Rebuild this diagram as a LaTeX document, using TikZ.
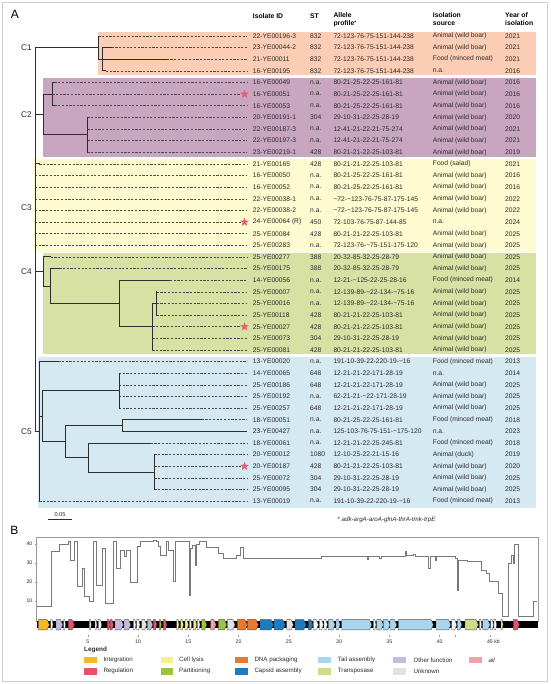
\documentclass[tikz,border=0pt]{standalone}
\usepackage{fontspec}
\setmainfont{Liberation Sans}
\usetikzlibrary{shapes.geometric}
\definecolor{bgA}{HTML}{FCCDB5}
\definecolor{bgB}{HTML}{C8A6C0}
\definecolor{bgC}{HTML}{FEFBD0}
\definecolor{bgD}{HTML}{D6E1A3}
\definecolor{bgE}{HTML}{D4E9F2}
\definecolor{starc}{HTML}{E06473}
\definecolor{treec}{HTML}{2E2E2E}
\definecolor{dashc}{HTML}{4A4A4A}
\definecolor{txtc}{HTML}{2B2B2B}
\definecolor{framec}{HTML}{CFCFCF}
\definecolor{chartc}{HTML}{9A9A9A}
\definecolor{profc}{HTML}{787878}
\definecolor{geneedge}{HTML}{505050}
\definecolor{cInt}{HTML}{F8B629}
\definecolor{cReg}{HTML}{E5536B}
\definecolor{cLys}{HTML}{F7F08A}
\definecolor{cPart}{HTML}{9CC23F}
\definecolor{cDNA}{HTML}{E8792F}
\definecolor{cCap}{HTML}{1B7CC2}
\definecolor{cTail}{HTML}{A9D6EE}
\definecolor{cTrans}{HTML}{CCDD83}
\definecolor{cOther}{HTML}{C7B9DB}
\definecolor{cUnk}{HTML}{E2E2E2}
\definecolor{cAil}{HTML}{F1A2A8}
\definecolor{cWht}{HTML}{F6F6F6}
\newcommand\yy[1]{36+11.63*(#1-1)}
\newcommand\mytilde{\textasciitilde}
\newcommand\gene[3]{%
  \pgfmathsetmacro\genetip{min(2.2,(#2-#1)/2.5)}%
  \filldraw[fill=#3, draw=geneedge, line width=0.35pt]
    (#1,619.6) -- ({#2-\genetip},619.6) -- (#2,624.75) -- ({#2-\genetip},629.9) -- (#1,629.9) -- cycle;}
\begin{document}
\begin{tikzpicture}[x=1pt,y=-1pt,
  tbl/.style={anchor=west, inner sep=0pt, font=\fontsize{6.7}{8}\selectfont, text=txtc},
  hdr/.style={anchor=north west, inner sep=0pt, align=left, font=\fontsize{6.8}{8}\selectfont\bfseries},
  hdrone/.style={anchor=west, inner sep=0pt, font=\fontsize{6.8}{8}\selectfont\bfseries},
  branch/.style={draw=treec, line width=0.95pt, line cap=rect},
  leafdash/.style={draw=dashc, line width=0.6pt, dash pattern=on 2.2pt off 1.5pt},
  clab/.style={anchor=east, inner sep=0pt, font=\fontsize{8.3}{9}\selectfont, text=txtc},
  starsty/.style={star, star points=5, star point ratio=2.3, minimum size=9pt, inner sep=0pt, fill=starc},
  panel/.style={inner sep=0pt, font=\fontsize{12}{12}\selectfont},
  leg/.style={anchor=west, inner sep=0pt, font=\fontsize{6.2}{7}\selectfont, text=txtc},
  axlab/.style={inner sep=0pt, font=\fontsize{5.2}{6}\selectfont, text=txtc},
  profile/.style={draw=profc, line width=0.7pt}
]
\useasboundingbox (0,0) rectangle (550,684);
\fill[white] (0,0) rectangle (550,684);
\draw[framec, line width=0.8pt] (2.5,2) rectangle (547.5,681);

% panel labels
\node[panel] (pA) at (15,14.2) {A};
\node[panel] (pB) at (14.3,530.5) {B};

% cluster backgrounds
\fill[bgA] (98.3,31.7) rectangle (536,75.3);
\fill[bgB] (43.3,77.7) rectangle (536,156.7);
\fill[bgC] (34.3,158.7) rectangle (536,251.7);
\fill[bgD] (42.7,253.3) rectangle (536,354);
\fill[bgE] (37.7,356.7) rectangle (536,508.3);

% header
\node[hdrone] (hID) at (252.7,16) {Isolate ID};
\node[hdrone] (hST) at (310,16) {ST};
\node[hdr] (hAl) at (333.3,12.6) {Allele\\profile{\fontsize{5}{5}\selectfont\raisebox{1.2pt}{*}}};
\node[hdr] (hSrc) at (432.7,12.6) {Isolation\\source};
\node[hdr] (hYr) at (505,12.6) {Year of\\isolation};

% table rows
\foreach \n/\id/\st/\al/\src/\yr in {
1/22-YE00196-3/832/72-123-76-75-151-144-238/Animal (wild boar)/2021,
2/23-YE00044-2/832/72-123-76-75-151-144-238/Animal (wild boar)/2021,
3/21-YE00011/832/72-123-76-75-151-144-238/Food (minced meat)/2021,
4/16-YE00195/832/72-123-76-75-151-144-238/n.a./2016,
5/16-YE00049/n.a./80-21-25-22-25-161-81/Animal (wild boar)/2016,
6/16-YE00051/n.a./80-21-25-22-25-161-81/Animal (wild boar)/2016,
7/16-YE00053/n.a./80-21-25-22-25-161-81/Animal (wild boar)/2016,
8/20-YE00191-1/304/29-10-31-22-25-28-19/Animal (wild boar)/2020,
9/22-YE00187-3/n.a./12-41-21-22-21-75-274/Animal (wild boar)/2021,
10/22-YE00197-3/n.a./12-41-21-22-21-75-274/Animal (wild boar)/2021,
11/23-YE00219-1/428/80-21-21-22-25-103-81/Animal (wild boar)/2019,
12/21-YE00165/428/80-21-21-22-25-103-81/Food (salad)/2021,
13/16-YE00050/n.a./80-21-25-22-25-161-81/Animal (wild boar)/2016,
14/16-YE00052/n.a./80-21-25-22-25-161-81/Animal (wild boar)/2016,
15/22-YE00038-1/n.a./\mytilde72-\mytilde123-76-75-87-175-145/Animal (wild boar)/2022,
16/22-YE00038-2/n.a./\mytilde72-\mytilde123-76-75-87-175-145/Animal (wild boar)/2022,
17/24-YE00064 (R)/450/72-103-76-75-87-144-85/n.a./2024,
18/25-YE00084/428/80-21-21-22-25-103-81/Animal (wild boar)/2025,
19/25-YE00283/n.a./72-123-76-\mytilde75-151-175-120/Animal (wild boar)/2025,
20/25-YE00277/388/20-32-85-32-25-28-79/Animal (wild boar)/2025,
21/25-YE00175/388/20-32-85-32-25-28-79/Animal (wild boar)/2025,
22/14-YE00056/n.a./12-21-\mytilde125-22-25-28-16/Food (minced meat)/2014,
23/25-YE00007/n.a./12-139-89-\mytilde22-134-\mytilde75-16/Animal (wild boar)/2025,
24/25-YE00016/n.a./12-139-89-\mytilde22-134-\mytilde75-16/Animal (wild boar)/2025,
25/25-YE00118/428/80-21-21-22-25-103-81/Animal (wild boar)/2025,
26/25-YE00027/428/80-21-21-22-25-103-81/Animal (wild boar)/2025,
27/25-YE00073/304/29-10-31-22-25-28-19/Animal (wild boar)/2025,
28/25-YE00081/428/80-21-21-22-25-103-81/Animal (wild boar)/2025,
29/13-YE00020/n.a./191-10-39-22-220-19-\mytilde16/Food (minced meat)/2013,
30/14-YE00065/648/12-21-21-22-171-28-19/n.a./2014,
31/25-YE00186/648/12-21-21-22-171-28-19/Animal (wild boar)/2025,
32/25-YE00192/n.a./62-21-21-\mytilde22-171-28-19/Animal (wild boar)/2025,
33/25-YE00257/648/12-21-21-22-171-28-19/Animal (wild boar)/2025,
34/18-YE00051/n.a./80-21-25-22-25-161-81/Food (minced meat)/2018,
35/23-YE00427/n.a./125-103-76-75-151-\mytilde175-120/n.a./2023,
36/18-YE00061/n.a./12-21-21-22-25-245-81/Food (minced meat)/2018,
37/20-YE00012/1080/12-10-25-22-21-15-16/Animal (duck)/2019,
38/20-YE00187/428/80-21-21-22-25-103-81/Animal (wild boar)/2020,
39/25-YE00072/304/29-10-31-22-25-28-19/Animal (wild boar)/2025,
40/25-YE00095/304/29-10-31-22-25-28-19/Animal (wild boar)/2025,
41/13-YE00019/n.a./191-10-39-22-220-19-\mytilde16/Food (minced meat)/2013} {
  \node[tbl] (id\n) at (252.7,{\yy{\n}}) {\id};
  \node[tbl] (st\n) at (310,{\yy{\n}}) {\st};
  \node[tbl] (al\n) at (333.3,{\yy{\n}}) {\al};
  \node[tbl] (src\n) at (432.7,{\yy{\n}}) {\src};
  \node[tbl] (yr\n) at (505,{\yy{\n}}) {\yr};
}

% tree: internal nodes
\coordinate (root) at (35,240);
\coordinate (nA1) at (98.3,47.63);
\coordinate (nB1) at (102.7,59.26);
\coordinate (nA2) at (43.3,114.5);
\coordinate (nP2) at (52.3,94.15);
\coordinate (nQ2) at (87.3,134.86);
\coordinate (nA4) at (43.3,271.5);
\coordinate (nB4) at (50.7,286.05);
\coordinate (nC4) at (119,303.49);
\coordinate (nD4) at (152.3,326.75);
\coordinate (nE4) at (156.7,303.49);
\coordinate (nR5) at (39.3,431.4);
\coordinate (nM5) at (42.7,416.2);
\coordinate (nN15) at (119,390.7);
\coordinate (nN25) at (65,441.6);
\coordinate (nO15) at (122.7,425.6);
\coordinate (nO25) at (88.3,457.6);
\coordinate (nO35) at (154.3,472.1);

% leaves
\foreach \n/\px/\sx/\ex in {
1/98.3/98.3/247, 2/102.7/111.7/247, 3/102.7/166.7/247, 4/102.7/106/247,
5/52.3/54.5/247, 6/52.3/52.3/240.5, 7/52.3/54.5/247,
8/87.3/87.3/247, 9/87.3/87.3/247, 10/87.3/87.3/247, 11/87.3/87.3/247,
12/35/39.3/247, 13/35/35/247, 14/35/35/247, 15/35/35/247, 16/35/35/247,
17/35/35/240.5, 18/35/35/247, 19/35/35/247,
20/43.3/50.7/247, 21/50.7/59.3/247, 22/119/170/247,
23/156.7/156.7/247, 24/156.7/156.7/247, 25/156.7/156.7/247,
26/152.3/152.3/240.5, 27/152.3/152.3/247, 28/152.3/152.3/247,
29/39.3/58.3/247, 30/119/119/247, 31/119/119/247, 32/119/119/247, 33/119/119/247,
34/122.7/201.7/247, 35/122.7/247/247, 36/88.3/150.7/247,
37/154.3/154.3/247, 38/154.3/154.3/240.5, 39/154.3/154.3/247, 40/154.3/154.3/247,
41/39.3/39.3/247} {
  \coordinate (leaf\n) at (\px,{\yy{\n}});
  \coordinate (sol\n) at (\sx,{\yy{\n}});
  \coordinate (tip\n) at (\ex,{\yy{\n}});
  \draw[leafdash] (sol\n) -- (tip\n);
  \draw[branch] (leaf\n) -- (sol\n);
}

% verticals
\draw[branch] (root |- nA1) -- (root |- nR5);
\draw[branch] (nA1 |- leaf1) -- (nA1 |- nB1);
\draw[branch] (nB1 |- leaf2) -- (nB1 |- leaf4);
\draw[branch] (nA2 |- nP2) -- (nA2 |- nQ2);
\draw[branch] (nP2 |- leaf5) -- (nP2 |- leaf7);
\draw[branch] (nQ2 |- leaf8) -- (nQ2 |- leaf11);
\draw[branch] (nA4 |- leaf20) -- (nA4 |- nB4);
\draw[branch] (nB4 |- leaf21) -- (nB4 |- nC4);
\draw[branch] (nC4 |- leaf22) -- (nC4 |- nD4);
\draw[branch] (nD4 |- nE4) -- (nD4 |- leaf28);
\draw[branch] (nE4 |- leaf23) -- (nE4 |- leaf25);
\draw[branch] (nR5 |- leaf29) -- (nR5 |- leaf41);
\draw[branch] (nM5 |- nN15) -- (nM5 |- nN25);
\draw[branch] (nN15 |- leaf30) -- (nN15 |- leaf33);
\draw[branch] (nN25 |- nO15) -- (nN25 |- nO25);
\draw[branch] (nO15 |- leaf34) -- (nO15 |- leaf35);
\draw[branch] (nO25 |- leaf36) -- (nO25 |- nO35);
\draw[branch] (nO35 |- leaf37) -- (nO35 |- leaf40);
% horizontals
\draw[branch] (root |- nA1) -- (nA1);
\draw[branch] (nA1 |- nB1) -- (nB1);
\draw[branch] (root |- nA2) -- (nA2);
\draw[branch] (nA2 |- nP2) -- (nP2);
\draw[branch] (nA2 |- nQ2) -- (nQ2);
\draw[branch] (root |- nA4) -- (nA4);
\draw[branch] (nA4 |- nB4) -- (nB4);
\draw[branch] (nB4 |- nC4) -- (nC4);
\draw[branch] (nC4 |- nD4) -- (nD4);
\draw[branch] (nD4 |- nE4) -- (nE4);
\draw[branch] (root |- nR5) -- (nR5);
\draw[branch] (nR5 |- nM5) -- (nM5);
\draw[branch] (nM5 |- nN15) -- (nN15);
\draw[branch] (nM5 |- nN25) -- (nN25);
\draw[branch] (nN25 |- nO15) -- (nO15);
\draw[branch] (nN25 |- nO25) -- (nO25);
\draw[branch] (nO25 |- nO35) -- (nO35);

% stars
\node[starsty] (star6) at (244.5,{\yy{6}}) {};
\node[starsty] (star17) at (244.5,{\yy{17}}) {};
\node[starsty] (star26) at (244.5,{\yy{26}}) {};
\node[starsty] (star38) at (244.5,{\yy{38}}) {};

% cluster labels
\node[clab] (labC1) at (32,47.63) {C1};
\node[clab] (labC2) at (32,114.5) {C2};
\node[clab] (labC3) at (32,208) {C3};
\node[clab] (labC4) at (32,271.5) {C4};
\node[clab] (labC5) at (32,431.4) {C5};

% scale bar
\coordinate (sbL) at (48.3,519.3);
\coordinate (sbR) at (71.7,519.3);
\draw[draw=treec, line width=0.9pt] (sbL) -- (sbR);
\node[axlab, font=\fontsize{5.6}{6}\selectfont] (sbT) at (60,514.8) {0.05};

% footnote
\node[inner sep=0pt, font=\fontsize{6.2}{7}\selectfont, text=txtc] (fn) at (386.5,519.6) {* \textit{adk-argA-aroA-glnA-thrA-tmk-trpE}};

% ---------- panel B ----------
\draw[chartc, line width=0.7pt] (36.7,537.7) rectangle (538.3,621);
\foreach \v in {10,20,30,40} {
  \draw[chartc, line width=0.5pt] (34.6,{620-1.9*\v}) -- (36.7,{620-1.9*\v});
  \node[axlab, anchor=east] (yl\v) at (32.5,{620-1.9*\v}) {\v};
}
\draw[profile] (36.7,606.7) -| (51.7,551.7) -| (59.3,544.3) -| (68.3,541) -| (70.7,560) -| (74.3,541)
  -| (77.3,586.7) -| (82.7,568.3) -| (84,596.7) -| (89.3,601) -| (93.3,541) -| (96,585)
  -| (102.7,548.3) -| (105,603.3) -| (113.3,541) -| (116,568.3) -| (120,550) -| (124.3,556.7)
  -| (126,550) -| (130,582.3) -| (137.3,546.7) -| (140,541) -| (153.3,540) -| (156,541)
  -| (158.3,546.7) -| (160,555.7) -| (166.7,541) -| (168.3,550) -| (173.3,581.7) -| (175.7,541)
  -| (189.3,595) -| (190.7,548.3) -| (192.7,545) -| (195,565) -| (196,544.3) -| (199.3,541)
  -| (206.7,547.7) -| (218.3,553.3) -| (223.3,558.3) -| (236.7,555.7) -| (240,547.7) -| (243.3,558.3)
  -| (321,556.7) -| (367,559) -| (368.5,556.7) -| (379.5,558.5) -| (381,556.7) -| (405.7,551)
  -| (406.7,555.7) -| (413.3,554.3) -| (415,556.7) -| (428.3,568.3) -| (430.3,556.7) -| (435,560)
  -| (436.7,556.7) -| (455,558.3) -| (457.7,590) -| (458.3,560) -| (467.7,561.7) -| (481.7,570)
  -| (486.7,573.3) -| (489,581.7) -| (498.3,593.3) -| (502.3,616.7) -| (508.3,563.3) -| (511.7,555)
  -| (513,563.3) -| (514.3,544.3) -| (518.3,616.7) -| (533.3,601.7) -- (536.5,601.7);

% genome backbone
\fill[black] (36.7,621.2) rectangle (538.3,628.3);
\foreach \a/\b/\c in {
38.3/49.3/cInt, 50.7/53/cWht, 56/62.7/cOther, 63.5/65.5/cWht, 68.3/74.3/cReg,
89.3/91.2/cWht, 95/96.9/cWht, 98.3/101.7/cWht, 107.3/110/cReg, 110.2/113.3/cReg,
115/123.3/cOther, 124/130.7/cOther, 133.3/136/cWht, 136.7/140/cWht, 141.7/146.7/cUnk,
147.3/152.7/cOther, 153.3/156.7/cReg, 159.3/161.3/cPart, 163.3/166.7/cReg,
176.7/179/cLys, 180.7/183.3/cLys, 185/188.3/cLys, 189.3/191.7/cWht, 193.3/196.7/cLys,
197.3/200/cWht, 201.7/206.7/cPart, 210.7/216/cAil, 218.3/226.7/cPart, 227.3/235/cUnk,
237.3/247.3/cDNA, 247.3/258.3/cDNA, 260/273.3/cCap, 274/285/cCap, 286.7/293.3/cUnk,
295/306/cCap, 308.3/312.7/cCap, 313.3/318.3/cWht, 319.3/323.3/cWht, 324/327.3/cWht,
328.3/335/cTail, 336/340/cTail, 341.7/371.7/cTail, 373.3/376/cWht, 376.7/383.3/cTail,
383.3/390/cTail, 390/396.7/cTail, 398.3/433.3/cTail, 436/450.7/cTail, 451.7/456.7/cWht,
457.3/461.7/cTail, 465/478.3/cTrans, 479.3/481.7/cWht, 482.7/490/cTail, 490.5/493.5/cWht,
494/496.7/cWht, 501/503/cLys, 513.3/519.3/cReg} {
  \gene{\a}{\b}{\c}
}
% kb axis
\foreach \k in {5,10,15,20,25,30,35,40} {
  \draw[chartc, line width=0.5pt] ({37.5+10.05*\k},634.5) -- ({37.5+10.05*\k},637);
  \node[axlab] (kb\k) at ({37.5+10.05*\k},641.5) {\k};
}
\draw[chartc, line width=0.5pt] ({37.5+10.05*45},634.5) -- ({37.5+10.05*45},637);
\node[axlab, anchor=west] (kb45) at ({37.5+10.05*45-2.9},641.5) {45 kb};
\draw[chartc, line width=0.5pt] (455,634.5) -- (455,637);

% legend
\node[anchor=west, inner sep=0pt, font=\fontsize{6.4}{7}\selectfont\bfseries, text=txtc] (legT) at (84,649.8) {Legend};
\foreach \sx/\tx/\sy/\col/\lab in {
84/103.3/660/cInt/Integration, 84/103.3/671.3/cReg/Regulation,
160.7/179/660/cLys/Cell lysis, 160.7/179/671.3/cPart/Partitioning,
235/254.3/660/cDNA/DNA packaging, 235/254.3/671.3/cCap/Capsid assembly,
318.3/337.7/660/cTail/Tail assembly, 318.3/337.7/671.3/cTrans/Transposase,
393.3/413.3/660/cOther/Other function, 393.3/413.3/671.3/cUnk/Unknown} {
  \fill[\col] (\sx,{\sy-3.4}) rectangle ({\sx+12.5},{\sy+3.4});
  \node[leg] at (\tx,\sy) {\lab};
}
\fill[cAil] (469.3,656.6) rectangle (481.8,663.4);
\node[leg] (legAil) at (488.3,660) {\textit{ail}};
\end{tikzpicture}
\end{document}
